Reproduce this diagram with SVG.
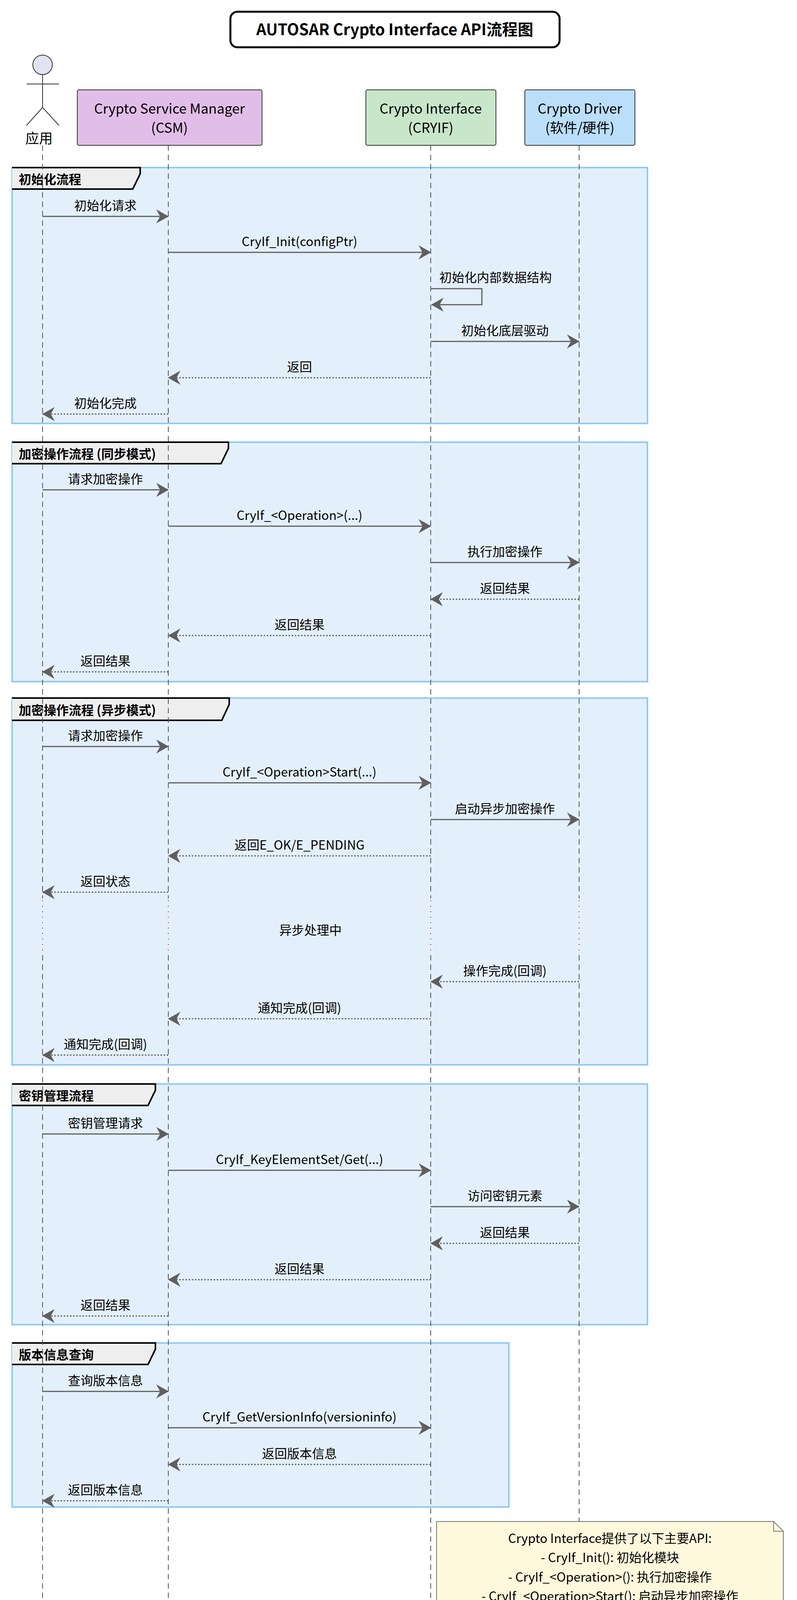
<svg xmlns="http://www.w3.org/2000/svg" width="2041" height="4866" viewBox="0 0 2041 4866">
<style>
text{font-family:"Noto Sans CJK SC","Noto Sans",sans-serif;fill:#000}
.m{font-size:32px;text-anchor:middle}
.p{font-size:35px;text-anchor:middle}
.g{fill:#E3F0FB;stroke:#90CAF9;stroke-width:4}
.tab{fill:#EEEEEE;stroke:#000;stroke-width:4}
.tt{font-size:32px;font-weight:bold}
.ll{stroke:#555;stroke-width:2;stroke-dasharray:14 10;fill:none}
.dl{stroke:#A80036;stroke-width:2;stroke-dasharray:2 12;fill:none}
.s{stroke:#5f5f5f;stroke-width:3;fill:none;marker-end:url(#a)}
.d{stroke:#5f5f5f;stroke-width:3;fill:none;stroke-dasharray:4 4;marker-end:url(#a)}
.act{fill:#E2E2F0;stroke:#333;stroke-width:2}
.al{stroke:#333;stroke-width:2;fill:none}
</style>
<defs>
<marker id="a" viewBox="0 0 32 36" refX="31" refY="18" markerWidth="32" markerHeight="36" markerUnits="userSpaceOnUse" orient="auto"><path d="M0,0 L32,18 L0,36 L10,18 Z" fill="#5f5f5f"/></marker>
</defs>
<rect width="2041" height="4866" fill="#fff"/>
<g id="title"><rect x="590" y="30" width="843" height="91" rx="18" fill="#fff" stroke="#000" stroke-width="5"/><text x="1011" y="90" font-size="40" font-weight="bold" text-anchor="middle">AUTOSAR Crypto Interface API流程图</text></g>

<g id="groups">
<rect class="g" x="31" y="429" width="1627" height="655"/><path class="tab" d="M31,429 H359 V445 L340,484 H31"/><text class="tt" x="48" y="471">初始化流程</text>
<rect class="g" x="31" y="1132" width="1627" height="613"/><path class="tab" d="M31,1132 H585 V1148 L566,1187 H31"/><text class="tt" x="48" y="1174">加密操作流程 (同步模式)</text>
<rect class="g" x="31" y="1787" width="1627" height="939"/><path class="tab" d="M31,1787 H587 V1803 L568,1844 H31"/><text class="tt" x="48" y="1830">加密操作流程 (异步模式)</text>
<rect class="g" x="31" y="2775" width="1627" height="616"/><path class="tab" d="M31,2775 H398 V2791 L379,2830 H31"/><text class="tt" x="48" y="2817">密钥管理流程</text>
<rect class="g" x="31" y="3438" width="1272" height="420"/><path class="tab" d="M31,3438 H398 V3454 L379,3493 H31"/><text class="tt" x="48" y="3480">版本信息查询</text>
</g>

<g id="lifelines">
<path class="ll" d="M109,372 V2300 M431,372 V2300 M1103,372 V2300 M1483,372 V2300 M109,2445 V4267 M431,2445 V4267 M1103,2445 V4267 M1483,2445 V4267"/>
<path class="dl" d="M109,2305 V2439 M431,2305 V2439 M1103,2305 V2439 M1483,2305 V2439"/>
</g>

<g id="app-top"><circle class="act" cx="109" cy="166" r="25"/><path class="al" d="M109,191 V275 M68,215 H151 M68,321 L109,275 L151,321"/><text class="p" x="100" y="367">应用</text></g>
<g id="csm-top"><rect x="198" y="230" width="473" height="142" rx="4" fill="#E1BEE7" stroke="#333" stroke-width="2"/><text class="p" x="434" y="291">Crypto Service Manager</text><text class="p" x="434" y="340">(CSM)</text></g>
<g id="cryif-top"><rect x="937" y="230" width="333" height="142" rx="4" fill="#C8E6C9" stroke="#333" stroke-width="2"/><text class="p" x="1103" y="291">Crypto Interface</text><text class="p" x="1103" y="340">(CRYIF)</text></g>
<g id="driver-top"><rect x="1344" y="230" width="282" height="142" rx="4" fill="#BBDEFB" stroke="#333" stroke-width="2"/><text class="p" x="1485" y="291">Crypto Driver</text><text class="p" x="1485" y="340">(软件/硬件)</text></g>

<g id="connectors">
<path class="s" d="M109,554 H431"/><text class="m" x="270" y="538">初始化请求</text>
<path class="s" d="M431,646 H1103"/><text class="m" x="767" y="630">CryIf_Init(configPtr)</text>
<path class="s" d="M1103,739 H1234 V780 H1105"/><text x="1125" y="722" font-size="32">初始化内部数据结构</text>
<path class="s" d="M1103,874 H1483"/><text class="m" x="1293" y="858">初始化底层驱动</text>
<path class="d" d="M1103,967 H431"/><text class="m" x="767" y="951">返回</text>
<path class="d" d="M431,1060 H109"/><text class="m" x="270" y="1044">初始化完成</text>

<path class="s" d="M109,1254 H431"/><text class="m" x="270" y="1238">请求加密操作</text>
<path class="s" d="M431,1347 H1103"/><text class="m" x="767" y="1331">CryIf_&lt;Operation&gt;(...)</text>
<path class="s" d="M1103,1440 H1483"/><text class="m" x="1293" y="1424">执行加密操作</text>
<path class="d" d="M1483,1534 H1103"/><text class="m" x="1293" y="1518">返回结果</text>
<path class="d" d="M1103,1627 H431"/><text class="m" x="767" y="1611">返回结果</text>
<path class="d" d="M431,1720 H109"/><text class="m" x="270" y="1704">返回结果</text>

<path class="s" d="M109,1911 H431"/><text class="m" x="270" y="1895">请求加密操作</text>
<path class="s" d="M431,2004 H1103"/><text class="m" x="767" y="1988">CryIf_&lt;Operation&gt;Start(...)</text>
<path class="s" d="M1103,2098 H1483"/><text class="m" x="1293" y="2082">启动异步加密操作</text>
<path class="d" d="M1103,2191 H431"/><text class="m" x="767" y="2175">返回E_OK/E_PENDING</text>
<path class="d" d="M431,2284 H109"/><text class="m" x="270" y="2268">返回状态</text>
<text class="m" x="795" y="2393">异步处理中</text>
<path class="d" d="M1483,2513 H1103"/><text class="m" x="1293" y="2497">操作完成(回调)</text>
<path class="d" d="M1103,2608 H431"/><text class="m" x="767" y="2592">通知完成(回调)</text>
<path class="d" d="M431,2701 H109"/><text class="m" x="270" y="2685">通知完成(回调)</text>

<path class="s" d="M109,2903 H431"/><text class="m" x="270" y="2887">密钥管理请求</text>
<path class="s" d="M431,2996 H1103"/><text class="m" x="767" y="2980">CryIf_KeyElementSet/Get(...)</text>
<path class="s" d="M1103,3089 H1483"/><text class="m" x="1293" y="3073">访问密钥元素</text>
<path class="d" d="M1483,3183 H1103"/><text class="m" x="1293" y="3167">返回结果</text>
<path class="d" d="M1103,3276 H431"/><text class="m" x="767" y="3260">返回结果</text>
<path class="d" d="M431,3369 H109"/><text class="m" x="270" y="3353">返回结果</text>

<path class="s" d="M109,3562 H431"/><text class="m" x="270" y="3546">查询版本信息</text>
<path class="s" d="M431,3655 H1103"/><text class="m" x="767" y="3639">CryIf_GetVersionInfo(versioninfo)</text>
<path class="d" d="M1103,3749 H431"/><text class="m" x="767" y="3733">返回版本信息</text>
<path class="d" d="M431,3842 H109"/><text class="m" x="270" y="3826">返回版本信息</text>
</g>

<g id="note"><path d="M1118,3895 H1981 L2006,3920 V4223 H1118 Z" fill="#FEF8DC" stroke="#777" stroke-width="2"/><path d="M1981,3895 V3920 H2006" fill="none" stroke="#777" stroke-width="2"/>
<text class="m" x="1562" y="3950">Crypto Interface提供了以下主要API:</text>
<text class="m" x="1562" y="3999">- CryIf_Init(): 初始化模块</text>
<text class="m" x="1562" y="4049">- CryIf_&lt;Operation&gt;(): 执行加密操作</text>
<text class="m" x="1562" y="4098">- CryIf_&lt;Operation&gt;Start(): 启动异步加密操作</text>
<text class="m" x="1562" y="4147">- CryIf_KeyElementSet/Get(): 密钥管理</text>
<text class="m" x="1562" y="4196">- CryIf_GetVersionInfo(): 获取版本信息</text></g>

<g id="app-bottom"><text class="p" x="100" y="4308">应用</text><circle class="act" cx="109" cy="4344" r="25"/><path class="al" d="M109,4369 V4453 M68,4393 H151 M68,4499 L109,4453 L151,4499"/></g>
<g id="csm-bottom"><rect x="198" y="4267" width="473" height="141" rx="4" fill="#E1BEE7" stroke="#333" stroke-width="2"/><text class="p" x="434" y="4328">Crypto Service Manager</text><text class="p" x="434" y="4377">(CSM)</text></g>
<g id="cryif-bottom"><rect x="937" y="4267" width="333" height="141" rx="4" fill="#C8E6C9" stroke="#333" stroke-width="2"/><text class="p" x="1103" y="4328">Crypto Interface</text><text class="p" x="1103" y="4377">(CRYIF)</text></g>
<g id="driver-bottom"><rect x="1344" y="4267" width="282" height="141" rx="4" fill="#BBDEFB" stroke="#333" stroke-width="2"/><text class="p" x="1485" y="4328">Crypto Driver</text><text class="p" x="1485" y="4377">(软件/硬件)</text></g>

<g id="legend"><rect x="1098" y="4544" width="882" height="262" rx="18" fill="#fff" stroke="#000" stroke-width="3"/>
<text x="1539" y="4605" font-size="38" font-weight="bold" text-anchor="middle">AUTOSAR Crypto Interface API流程说明</text>
<rect x="1276" y="4650" width="20" height="20" fill="#E1BEE7"/><text x="1312" y="4670" font-size="36">CSM - 管理加密服务请求</text>
<rect x="1308" y="4708" width="20" height="20" fill="#C8E6C9"/><text x="1344" y="4728" font-size="36">CRYIF - 提供统一接口</text>
<rect x="1262" y="4764" width="20" height="20" fill="#BBDEFB"/><text x="1298" y="4784" font-size="36">Driver - 执行实际加密操作</text></g>
<text x="2036" y="4843" font-size="30" fill="#BBB" style="fill:#BBBBBB" text-anchor="end">CSDN @KaiGer666</text>
</svg>
